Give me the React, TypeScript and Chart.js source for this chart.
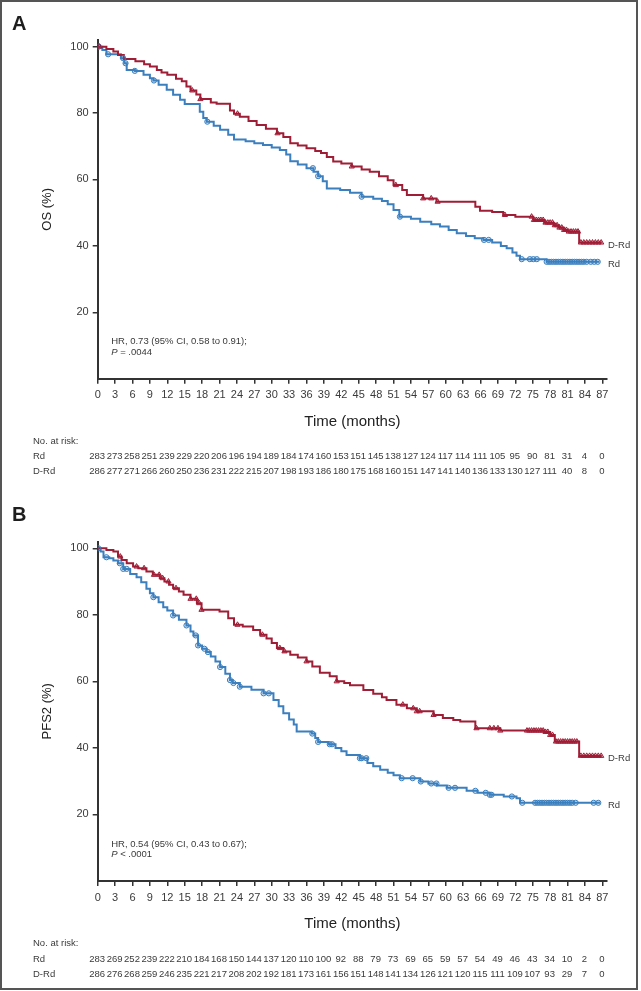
import React, { useEffect, useRef } from 'react';
import { Chart, registerables } from 'chart.js';

Chart.register(...registerables);

const RED = '#a01d36';
const BLUE = '#3b7fbe';
const RED_FILL = 'rgba(160,29,54,0.35)';
const BLUE_FILL = 'rgba(59,127,190,0.25)';
const TEXT = '#3a3a3a';
const AXIS = '#333333';
const FONT = "'Liberation Sans', Arial, Helvetica, sans-serif";
const NARROW = "'Liberation Sans Narrow', 'Liberation Sans', Arial, sans-serif";

// ---- shared tick / table labels ----
const riskTimes = [0, 3, 6, 9, 12, 15, 18, 21, 24, 27, 30, 33, 36, 39, 42, 45, 48, 51, 54, 57, 60, 63, 66, 69, 72, 75, 78, 81, 84, 87];
const yTicks = [20, 40, 60, 80, 100];

// ---- Panel A: OS ----
const osDRdTime = [0, 1.5, 2.7, 3.5, 4.5, 6.5, 8.0, 9.0, 10.2, 11.0, 12.0, 13.5, 14.5, 15.3, 16.0, 17.0, 17.7, 19.5, 20.5, 22.8, 23.5, 24.5, 26.0, 27.4, 29.0, 30.9, 32.0, 33.2, 34.5, 36.0, 37.5, 38.5, 39.5, 40.6, 42.0, 43.8, 45.5, 46.9, 48.5, 50.0, 51.0, 52.5, 53.3, 56.1, 58.4, 65.1, 65.9, 68.0, 69.9, 72.0, 75.1, 77.0, 78.6, 79.5, 80.3, 81.0, 83.0, 86.9];
const osDRdSurv = [100, 99.3, 98.5, 97.5, 96.3, 95.6, 94.7, 94.0, 93.0, 92.2, 91.5, 90.3, 89.6, 88.0, 86.8, 85.6, 84.2, 83.2, 82.8, 80.8, 79.8, 78.9, 77.6, 76.4, 75.3, 73.9, 72.8, 70.9, 70.2, 69.4, 68.6, 68.0, 66.8, 65.4, 64.8, 63.9, 63.0, 62.3, 61.0, 59.8, 58.3, 56.8, 55.3, 54.3, 53.3, 51.8, 50.6, 50.2, 49.3, 48.8, 47.8, 47.0, 46.2, 45.5, 44.8, 44.3, 41.0, 41.0];
const osRdTime = [0, 0.8, 1.5, 4.0, 4.6, 5.0, 6.4, 7.9, 9.0, 9.6, 10.5, 11.9, 13.0, 14.2, 15.0, 17.6, 18.2, 18.8, 20.0, 21.1, 22.5, 23.5, 25.5, 27.0, 28.5, 30.0, 31.4, 32.5, 33.2, 34.5, 36.0, 37.2, 38.0, 38.8, 39.5, 41.8, 43.5, 45.5, 47.5, 49.0, 50.0, 51.0, 52.0, 54.0, 55.6, 57.5, 59.0, 60.5, 61.9, 63.5, 65.0, 66.5, 68.0, 69.5, 70.5, 71.5, 72.2, 72.8, 77.4, 86.5];
const osRdSurv = [100, 99.0, 97.7, 96.5, 95.0, 93.0, 92.7, 91.5, 90.5, 89.8, 88.5, 87.0, 85.5, 84.0, 82.7, 80.4, 78.5, 77.4, 76.2, 75.0, 73.5, 72.0, 71.5, 70.9, 70.4, 69.6, 68.9, 67.5, 65.5, 64.5, 63.4, 62.3, 61.0, 59.5, 57.3, 56.8, 56.0, 54.8, 54.2, 53.5, 52.5, 50.8, 48.8, 48.2, 47.3, 46.5, 45.8, 44.8, 43.8, 43.0, 42.3, 41.8, 41.0, 40.0, 39.3, 38.0, 37.0, 36.0, 35.2, 35.2];
const osDRdCensor = [0.3, 16.3, 17.7, 24.1, 31.0, 43.8, 51.4, 56.1, 57.5, 58.6, 70.2, 74.8, 75.2, 75.6, 76.0, 76.4, 76.8, 77.2, 77.6, 78.0, 78.4, 78.8, 79.2, 79.6, 80.0, 80.4, 80.8, 81.2, 81.6, 82.0, 82.4, 82.8, 83.3, 83.8, 84.3, 84.8, 85.3, 85.8, 86.3, 86.8];
const osRdCensor = [0.2, 1.8, 4.4, 4.8, 6.4, 9.7, 18.9, 37.1, 38.0, 45.5, 52.1, 66.6, 67.4, 73.1, 74.5, 75.1, 75.7, 77.4, 77.8, 78.2, 78.6, 79.0, 79.4, 79.8, 80.2, 80.6, 81.0, 81.4, 81.8, 82.2, 82.6, 83.0, 83.4, 83.8, 84.3, 85.0, 85.6, 86.2];
const osRiskRd = [283, 273, 258, 251, 239, 229, 220, 206, 196, 194, 189, 184, 174, 160, 153, 151, 145, 138, 127, 124, 117, 114, 111, 105, 95, 90, 81, 31, 4, 0];
const osRiskDRd = [286, 277, 271, 266, 260, 250, 236, 231, 222, 215, 207, 198, 193, 186, 180, 175, 168, 160, 151, 147, 141, 140, 136, 133, 130, 127, 111, 40, 8, 0];

// ---- Panel B: PFS2 ----
const pfsDRdTime = [0, 1.5, 2.7, 3.5, 4.1, 5.0, 6.1, 7.0, 8.4, 9.5, 10.7, 11.5, 12.3, 13.0, 14.0, 14.8, 16.0, 17.1, 17.9, 21.0, 22.5, 23.5, 25.0, 26.8, 28.0, 29.1, 30.0, 30.9, 32.0, 33.2, 34.5, 36.0, 37.0, 38.3, 40.0, 41.2, 42.5, 43.5, 45.8, 47.5, 49.0, 49.8, 51.5, 53.3, 55.0, 57.9, 59.5, 61.3, 62.5, 65.1, 69.4, 77.0, 78.0, 78.8, 83.0, 86.9];
const pfsDRdSurv = [100, 99.5, 99.0, 97.5, 96.5, 95.5, 94.5, 94.0, 93.0, 92.0, 91.0, 90.0, 89.0, 88.0, 87.0, 86.0, 84.8, 83.5, 81.5, 81.0, 79.0, 77.0, 76.5, 75.4, 74.0, 72.9, 71.5, 70.0, 69.0, 68.0, 67.2, 66.0, 64.5, 62.6, 61.5, 60.0, 59.5, 58.8, 57.4, 56.3, 55.2, 54.4, 53.0, 51.9, 51.0, 49.9, 49.0, 48.4, 47.9, 45.9, 45.2, 44.8, 43.9, 41.9, 37.6, 37.6];
const pfsRdTime = [0, 0.5, 1.0, 2.0, 2.7, 3.5, 4.4, 5.6, 6.7, 7.5, 8.4, 9.0, 9.6, 10.5, 11.3, 12.0, 13.0, 14.0, 15.3, 16.0, 16.5, 17.3, 18.0, 18.8, 19.5, 20.3, 21.1, 22.0, 22.8, 23.3, 24.5, 26.5, 28.6, 30.3, 31.2, 32.0, 33.0, 33.8, 34.3, 36.9, 37.5, 38.0, 39.8, 41.0, 42.0, 42.9, 45.2, 46.5, 47.5, 48.7, 50.0, 51.0, 52.1, 55.6, 57.0, 58.5, 60.2, 63.6, 65.5, 67.6, 70.0, 72.2, 72.8, 86.6];
const pfsRdSurv = [100, 99.0, 97.3, 97.0, 96.3, 95.5, 93.8, 92.3, 91.3, 89.8, 87.8, 86.5, 85.3, 83.8, 82.3, 81.3, 79.8, 78.5, 76.8, 75.0, 73.8, 70.8, 69.8, 68.8, 67.5, 66.0, 64.3, 62.3, 60.4, 59.5, 58.4, 57.5, 56.4, 54.4, 52.5, 50.4, 48.5, 47.0, 44.9, 44.3, 43.0, 41.8, 41.1, 40.0, 39.0, 37.9, 36.9, 35.5, 34.5, 33.4, 32.5, 31.8, 30.9, 29.9, 29.3, 28.7, 28.0, 27.1, 26.5, 25.9, 25.4, 24.9, 23.5, 23.5];
const pfsDRdCensor = [3.9, 6.7, 8.0, 9.7, 10.6, 11.2, 12.2, 13.5, 16.0, 17.0, 17.5, 17.9, 24.1, 28.4, 31.4, 32.2, 36.0, 41.2, 52.6, 54.4, 55.0, 55.5, 57.9, 65.3, 67.6, 68.3, 69.0, 69.4, 74.0, 74.4, 74.8, 75.2, 75.6, 76.0, 76.4, 76.8, 77.2, 77.6, 78.0, 78.4, 79.0, 79.4, 79.8, 80.2, 80.6, 81.0, 81.4, 81.8, 82.2, 82.6, 83.3, 83.8, 84.3, 84.8, 85.3, 85.8, 86.3, 86.8];
const pfsRdCensor = [0.1, 1.5, 3.8, 4.4, 5.0, 9.6, 13.0, 15.3, 16.9, 17.3, 18.4, 19.0, 21.1, 22.8, 23.4, 24.5, 28.6, 29.5, 37.0, 38.0, 40.0, 40.4, 45.2, 45.5, 46.3, 52.4, 54.3, 55.7, 57.5, 58.4, 60.5, 61.6, 65.1, 66.9, 67.6, 67.9, 71.4, 73.2, 75.4, 75.8, 76.2, 76.6, 77.0, 77.4, 77.8, 78.2, 78.6, 79.0, 79.4, 79.8, 80.2, 80.6, 81.0, 81.4, 81.8, 82.4, 85.5, 86.3];
const pfsRiskRd = [283, 269, 252, 239, 222, 210, 184, 168, 150, 144, 137, 120, 110, 100, 92, 88, 79, 73, 69, 65, 59, 57, 54, 49, 46, 43, 34, 10, 2, 0];
const pfsRiskDRd = [286, 276, 268, 259, 246, 235, 221, 217, 208, 202, 192, 181, 173, 161, 156, 151, 148, 141, 134, 126, 121, 120, 115, 111, 109, 107, 93, 29, 7, 0];

function survAt(times: number[], surv: number[], t: number) {
  let v = surv[0];
  for (let i = 0; i < times.length; i++) {
    if (times[i] <= t) v = surv[i];
    else break;
  }
  return v;
}

type PanelProps = {
  top: number;
  height: number;
  letter: string;
  letterY: number;
  yTitle: string;
  hr: string;
  pText: string;
  padTop: number;
  xAxisHeight: number;
  dTime: number[];
  dSurv: number[];
  rTime: number[];
  rSurv: number[];
  dCens: number[];
  rCens: number[];
  riskRd: number[];
  riskDRd: number[];
};

function Panel(p: PanelProps) {
  const ref = useRef<HTMLCanvasElement | null>(null);
  useEffect(() => {
    if (!ref.current) return;
    const toXY = (ts: number[], vs: number[]) => ts.map((t, i) => ({ x: t, y: vs[i] }));
    const censXY = (cs: number[], ts: number[], vs: number[]) => cs.map((t) => ({ x: t, y: survAt(ts, vs, t) }));

    const overlay = {
      id: 'overlay',
      afterDraw(chart: any) {
        const { ctx, chartArea } = chart;
        const xs = chart.scales.x;
        const ys = chart.scales.y;
        ctx.save();
        ctx.textBaseline = 'middle';
        ctx.textAlign = 'left';
        // panel letter
        ctx.fillStyle = '#1e1e1e';
        ctx.font = `bold 20px ${FONT}`;
        ctx.fillText(p.letter, 12, p.letterY);
        // HR annotation
        ctx.fillStyle = TEXT;
        const hx = xs.getPixelForValue(0) + 13.5;
        ctx.font = `9.5px ${FONT}`;
        ctx.fillText(p.hr, hx, chartArea.bottom - 37);
        ctx.font = `italic 9.5px ${FONT}`;
        ctx.fillText('P', hx, chartArea.bottom - 26.5);
        const pw = ctx.measureText('P').width;
        ctx.font = `9.5px ${FONT}`;
        ctx.fillText(p.pText, hx + pw, chartArea.bottom - 26.5);
        // series labels
        ctx.font = `9.5px ${FONT}`;
        ctx.fillText('D-Rd', chartArea.right + 1, ys.getPixelForValue(p.dSurv[p.dSurv.length - 1]) + 2.5);
        ctx.fillText('Rd', chartArea.right + 1, ys.getPixelForValue(p.rSurv[p.rSurv.length - 1]) + 2.5);
        // risk table
        const b = chartArea.bottom;
        ctx.font = `9.5px ${FONT}`;
        ctx.fillText('No. at risk:', 33, b + 62.5);
        ctx.fillText('Rd', 33, b + 78);
        ctx.fillText('D-Rd', 33, b + 93);
        ctx.textAlign = 'center';
        ctx.font = `9.5px ${NARROW}`;
        riskTimes.forEach((t, i) => {
          const px = xs.getPixelForValue(t) - 0.5;
          ctx.fillText(String(p.riskRd[i]), px, b + 78);
          ctx.fillText(String(p.riskDRd[i]), px, b + 93);
        });
        ctx.restore();
      },
    };

    const chart = new Chart(ref.current, {
      type: 'line',
      data: {
        datasets: [
          {
            label: 'D-Rd censored',
            data: censXY(p.dCens, p.dTime, p.dSurv),
            showLine: false,
            pointStyle: 'triangle',
            pointRadius: 3,
            pointBackgroundColor: RED_FILL,
            pointBorderColor: RED,
            pointBorderWidth: 1,
          },
          {
            label: 'Rd censored',
            data: censXY(p.rCens, p.rTime, p.rSurv),
            showLine: false,
            pointStyle: 'circle',
            pointRadius: 2.6,
            pointBackgroundColor: BLUE_FILL,
            pointBorderColor: BLUE,
            pointBorderWidth: 1,
          },
          {
            label: 'D-Rd',
            data: toXY(p.dTime, p.dSurv),
            borderColor: RED,
            borderWidth: 2,
            pointRadius: 0,
            stepped: 'before',
            fill: false,
          },
          {
            label: 'Rd',
            data: toXY(p.rTime, p.rSurv),
            borderColor: BLUE,
            borderWidth: 2,
            pointRadius: 0,
            stepped: 'before',
            fill: false,
          },
        ],
      },
      options: {
        responsive: false,
        animation: false,
        events: [],
        layout: { padding: { top: p.padTop, right: 34, left: 0, bottom: 0 } },
        plugins: { legend: { display: false }, tooltip: { enabled: false } },
        scales: {
          x: {
            type: 'linear',
            min: 0,
            max: 87.8,
            afterBuildTicks: (s: any) => {
              s.ticks = riskTimes.map((v) => ({ value: v }));
            },
            afterFit: (s: any) => {
              s.height = p.xAxisHeight;
            },
            border: { display: true, color: AXIS, width: 2 },
            grid: { drawOnChartArea: false, drawTicks: true, tickLength: 5, color: AXIS, lineWidth: 1.5 },
            ticks: { color: TEXT, font: { family: FONT, size: 11 }, padding: 5, maxRotation: 0, autoSkip: false },
            title: {
              display: true,
              text: 'Time (months)',
              color: '#222',
              font: { family: FONT, size: 15 },
              padding: { top: 0, bottom: p.xAxisHeight - 43 - 9 },
            },
          },
          y: {
            type: 'linear',
            min: 0,
            max: 102,
            afterBuildTicks: (s: any) => {
              s.ticks = yTicks.map((v) => ({ value: v }));
            },
            afterFit: (s: any) => {
              s.width = 97.7;
            },
            border: { display: true, color: AXIS, width: 2 },
            grid: { drawOnChartArea: false, drawTicks: true, tickLength: 5, color: AXIS, lineWidth: 1.5 },
            ticks: { color: TEXT, font: { family: FONT, size: 11 }, padding: 4 },
            title: {
              display: true,
              text: p.yTitle,
              color: '#222',
              font: { family: FONT, size: 13 },
              padding: { top: 40, bottom: 0 },
            },
          },
        },
      } as any,
      plugins: [overlay],
    });
    return () => chart.destroy();
  }, []);
  return (
    <canvas
      ref={ref}
      width={641}
      height={p.height}
      style={{ position: 'absolute', left: 0, top: p.top, width: 641, height: p.height }}
    />
  );
}

export default function App() {
  return (
    <div style={{ position: 'fixed', left: 0, top: 0, width: 641, height: 991, background: '#fff', overflow: 'hidden' }}>
      <Panel
        top={0}
        height={495}
        letter="A"
        letterY={24}
        yTitle="OS (%)"
        hr="HR, 0.73 (95% CI, 0.58 to 0.91);"
        pText=" = .0044"
        padTop={40}
        xAxisHeight={116.3}
        dTime={osDRdTime}
        dSurv={osDRdSurv}
        rTime={osRdTime}
        rSurv={osRdSurv}
        dCens={osDRdCensor}
        rCens={osRdCensor}
        riskRd={osRiskRd}
        riskDRd={osRiskDRd}
      />
      <Panel
        top={495}
        height={496}
        letter="B"
        letterY={20}
        yTitle="PFS2 (%)"
        hr="HR, 0.54 (95% CI, 0.43 to 0.67);"
        pText=" < .0001"
        padTop={46.6}
        xAxisHeight={110}
        dTime={pfsDRdTime}
        dSurv={pfsDRdSurv}
        rTime={pfsRdTime}
        rSurv={pfsRdSurv}
        dCens={pfsDRdCensor}
        rCens={pfsRdCensor}
        riskRd={pfsRiskRd}
        riskDRd={pfsRiskDRd}
      />
      <div
        style={{
          position: 'absolute',
          left: 0,
          top: 0,
          width: 638,
          height: 990,
          boxSizing: 'border-box',
          border: '2px solid #555',
          pointerEvents: 'none',
        }}
      />
    </div>
  );
}
